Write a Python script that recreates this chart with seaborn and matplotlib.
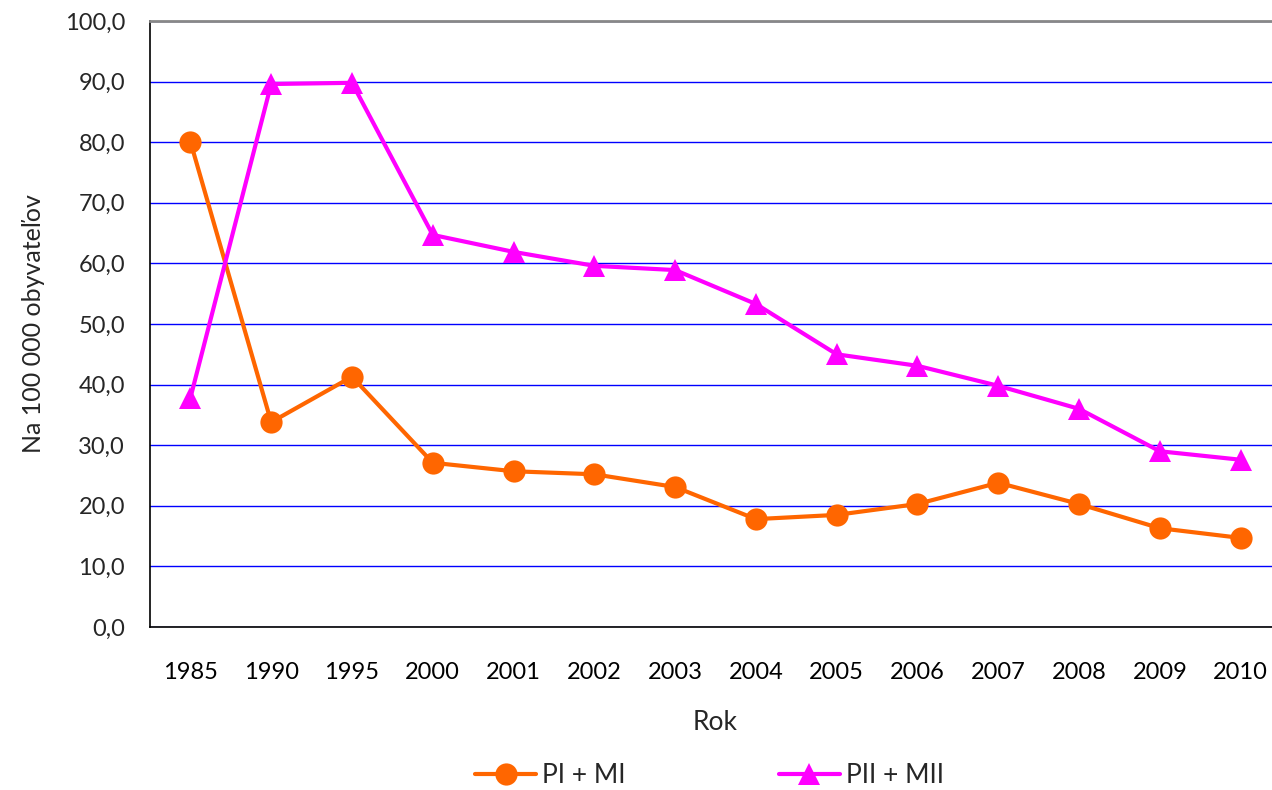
import matplotlib
matplotlib.use("Agg")
import matplotlib.pyplot as plt
import matplotlib.ticker as mticker
import seaborn as sns
import pandas as pd
import numpy as np

# data
years = ["1985", "1990", "1995", "2000", "2001", "2002", "2003",
         "2004", "2005", "2006", "2007", "2008", "2009", "2010"]
pi_mi = [80.1, 33.8, 41.3, 27.1, 25.7, 25.2, 23.1, 17.8, 18.5, 20.3, 23.8, 20.3, 16.3, 14.7]
pii_mii = [37.8, 89.6, 89.8, 64.7, 61.9, 59.6, 58.9, 53.3, 45.0, 43.1, 39.8, 36.0, 29.0, 27.6]
series_names = ["PI + MI", "PII + MII"]

df = pd.DataFrame({
    "pos": list(range(len(years))) * 2,
    "value": pi_mi + pii_mii,
    "series": [series_names[0]] * len(years) + [series_names[1]] * len(years),
})

sns.set_style("white")
plt.rcParams["font.family"] = ["Lato", "DejaVu Sans"]

fig = plt.figure(figsize=(12.72, 7.90), dpi=100)
# axes box in pixels: left 150, right ~1281 (past the edge), top 21, bottom 627
ax = fig.add_axes([150 / 1272, (790 - 627) / 790, (1281 - 150) / 1272, 606 / 790])

sns.lineplot(data=df, x="pos", y="value", hue="series", style="series",
             palette={"PI + MI": "#FF6600", "PII + MII": "#FF00FF"},
             markers={"PI + MI": "o", "PII + MII": "^"}, dashes=False,
             markersize=16, markeredgewidth=0, linewidth=3, ax=ax, legend=True)

ax.set_xlim(-0.5, len(years) - 0.5)
ax.set_ylim(0, 100)

# y axis
ax.yaxis.set_major_locator(mticker.MultipleLocator(10))
ax.yaxis.set_major_formatter(mticker.FuncFormatter(lambda v, p: f"{v:.1f}".replace(".", ",")))
ax.yaxis.grid(True, color="#0000FF", linewidth=1)
ax.set_axisbelow(True)

# x axis: labels at centers, tick marks between categories
ax.set_xticks(range(len(years)))
ax.set_xticklabels(years)
ax.set_xticks(np.arange(-0.5, len(years), 1), minor=True)
ax.tick_params(axis="x", which="major", length=0, pad=25, labelsize=17, colors="black")
ax.tick_params(axis="x", which="minor", length=7, width=1, direction="out", color="black")
ax.tick_params(axis="y", which="major", length=6, width=1, direction="out", color="black",
               pad=12, labelsize=17)

for s in ["left", "bottom"]:
    ax.spines[s].set_color("black")
    ax.spines[s].set_linewidth(1.2)
ax.spines["top"].set_color("#888888")
ax.spines["top"].set_linewidth(2)
ax.spines["right"].set_visible(False)

ax.set_xlabel("Rok", fontsize=19, labelpad=20)
ax.set_ylabel("Na 100 000 obyvateľov", fontsize=18, labelpad=14)

handles, labels = ax.get_legend_handles_labels()
ax.get_legend().remove()
fig.legend(handles, labels, loc="center", bbox_to_anchor=(0.558, 0.018), ncol=2,
           frameon=False, fontsize=19, handlelength=2.3, columnspacing=5.8,
           handletextpad=0.25)

fig.savefig("out.png", dpi=100)
